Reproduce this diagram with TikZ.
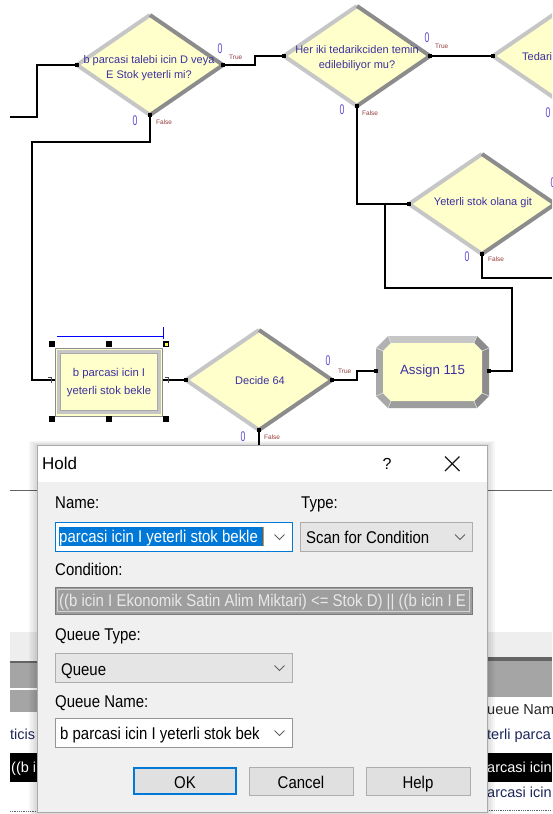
\documentclass[tikz,border=0pt]{standalone}
\usepackage{fontspec}
\setmainfont{Liberation Sans}
\newfontfamily\dlgfont[FakeStretch=0.88]{Liberation Sans}
\newfontfamily\cntfont[FakeStretch=0.62]{Liberation Sans}
\usetikzlibrary{shapes.geometric,calc}

% Arena model colours
\definecolor{blockfill}{RGB}{255,255,204}
\definecolor{bevellight}{RGB}{198,198,198}
\definecolor{beveldark}{RGB}{140,140,140}
\definecolor{bevelmid}{RGB}{168,168,168}
\definecolor{blocktext}{RGB}{60,48,160}
\definecolor{countblue}{RGB}{98,74,210}
\definecolor{branchred}{RGB}{150,62,62}
\definecolor{selblue}{RGB}{0,0,255}
% dialog colours
\definecolor{dlgbody}{RGB}{240,240,240}
\definecolor{dlgborder}{RGB}{170,170,170}
\definecolor{winblue}{RGB}{0,120,215}
\definecolor{ctrlgray}{RGB}{229,229,229}
\definecolor{ctrlborder}{RGB}{173,173,173}
\definecolor{fieldborder}{RGB}{122,122,122}
\definecolor{condfill}{RGB}{158,158,158}
\definecolor{condtext}{RGB}{232,232,232}
\definecolor{chevgray}{RGB}{96,96,96}
\definecolor{caretorange}{RGB}{255,140,0}
% spreadsheet colours
\definecolor{gridgray}{RGB}{165,165,165}
\definecolor{gridlight}{RGB}{238,238,238}
\definecolor{gridline}{RGB}{100,100,100}
\definecolor{gridtext}{RGB}{28,38,90}

\tikzset{
  conn/.style={draw=black, line width=1.1pt, line join=miter},
  decisionbox/.style={diamond, fill=blockfill, inner sep=0pt, outer sep=0pt,
    minimum width=146pt, minimum height=100pt},
  blocklabel/.style={text=blocktext, align=center, inner sep=0pt,
    font=\fontsize{11}{15.5}\selectfont},
  countlabel/.style={text=countblue, inner sep=0pt, font=\cntfont\fontsize{14}{14}\selectfont},
  branchlabel/.style={text=branchred, inner sep=0pt, anchor=west, font=\fontsize{6.5}{7}\selectfont},
  portmark/.style={fill=black},
  handle/.style={fill=black},
  dlgtext/.style={inner sep=0pt, anchor=base west, text=black, font=\dlgfont\fontsize{17}{20}\selectfont},
  chev/.style={draw=chevgray, line width=0.9pt},
  sheettext/.style={inner sep=0pt, anchor=base west, text=gridtext, font=\fontsize{14.5}{18}\selectfont},
}

% a decision module: diamond with a bevelled rim and its caption
\newcommand\arenadecide[4]{%
  \node[decisionbox] (#1) at (#2) {};
  \draw[bevellight, line width=4pt] (#1.south) -- (#1.west) -- (#1.north);
  \draw[beveldark, line width=4pt] (#1.north) -- (#1.east) -- (#1.south);
  \node[blocklabel] at (#3) {#4};
}
% small square marking a connection point
\newcommand\portat[1]{\fill[portmark] ($(#1)+(-1.8,-1.8)$) rectangle ($(#1)+(1.8,1.8)$);}

\begin{document}
\begin{tikzpicture}[x=1pt, y=-1pt]
\useasboundingbox (0,0) rectangle (552,814);
\clip (0,0) rectangle (552,814);
\fill[white] (0,0) rectangle (552,814);

% ---------------- flowchart ----------------
\arenadecide{dA}{150,65}{149,68}{b parcasi talebi icin D veya\\E Stok yeterli mi?}
\arenadecide{dB}{357,56}{357,58}{Her iki tedarikciden temin\\edilebiliyor mu?}
\arenadecide{dC}{566,56}{566,57}{}
\node[text=blocktext, inner sep=0pt, anchor=west, font=\fontsize{11}{12}\selectfont] at (522,57) {Tedari};
\arenadecide{dD}{482,204}{483,203}{Yeterli stok olana git}
\arenadecide{dE}{259,380}{260,381}{Decide 64}

% hold module
\node[fill=blockfill, draw=beveldark, line width=1pt, minimum width=107pt, minimum height=68pt,
      inner sep=0pt] (hold) at (109,382) {};
\draw[bevellight, line width=3pt] (58.5,351.5) rectangle (159.5,412.5);
\draw[bevelmid, line width=0.8pt] (60.5,353.5) rectangle (157.5,410.5);
\node[blocklabel, font=\fontsize{11.3}{18}\selectfont] at (109,383) {b parcasi icin I\\yeterli stok bekle};
% selection handles of the hold module
\foreach \hx in {52,109,166} {
  \foreach \hy in {344,419} {
    \fill[handle] (\hx-2.6,\hy-2.6) rectangle (\hx+2.6,\hy+2.6);
  }
}
\fill[yellow!70] (165,343) rectangle (167.6,345.6);
\draw[selblue, line width=1pt] (57,336) -- (163.5,336);
\draw[selblue, line width=1pt] (163.5,327) -- (163.5,339);

% assign module: octagonal block with bevelled rim
\node[minimum width=113pt, minimum height=72pt, inner sep=0pt, outer sep=0pt] (asg) at (432.5,372) {};
\begin{scope}[shift={(asg.center)}]
  % outer and inner outlines of the rim
  \coordinate (o1) at (-44.5,-36); \coordinate (o2) at (44.5,-36);
  \coordinate (o3) at (56.5,-24);  \coordinate (o4) at (56.5,24);
  \coordinate (o5) at (44.5,36);   \coordinate (o6) at (-44.5,36);
  \coordinate (o7) at (-56.5,24);  \coordinate (o8) at (-56.5,-24);
  \coordinate (i1) at (-41.5,-29); \coordinate (i2) at (41.5,-29);
  \coordinate (i3) at (49.5,-21);  \coordinate (i4) at (49.5,21);
  \coordinate (i5) at (41.5,29);   \coordinate (i6) at (-41.5,29);
  \coordinate (i7) at (-49.5,21);  \coordinate (i8) at (-49.5,-21);
  \fill[bevellight] (o1) -- (o2) -- (i2) -- (i1) -- cycle;
  \fill[bevellight!90!black] (o8) -- (o1) -- (i1) -- (i8) -- cycle;
  \fill[bevelmid] (o7) -- (o8) -- (i8) -- (i7) -- cycle;
  \fill[beveldark] (o2) -- (o3) -- (i3) -- (i2) -- cycle;
  \fill[beveldark] (o3) -- (o4) -- (i4) -- (i3) -- cycle;
  \fill[beveldark] (o4) -- (o5) -- (i5) -- (i4) -- cycle;
  \fill[beveldark!85!white] (o5) -- (o6) -- (i6) -- (i5) -- cycle;
  \fill[bevelmid] (o6) -- (o7) -- (i7) -- (i6) -- cycle;
  \fill[blockfill] (i1) -- (i2) -- (i3) -- (i4) -- (i5) -- (i6) -- (i7) -- (i8) -- cycle;
  \draw[bevellight!60!white, line width=0.6pt] (o8) -- (i8) (o1) -- (i1) (o2) -- (i2) (o3) -- (i3)
    (o4) -- (i4) (o5) -- (i5) (o6) -- (i6) (o7) -- (i7);
\end{scope}
\node[text=blocktext, inner sep=0pt, font=\fontsize{13.3}{15}\selectfont] at (432.5,371) {Assign 115};

% ---------------- connectors ----------------
\coordinate (inA) at (10,117);
\draw[conn] (inA) -- (37,117) -- (37,65) -- (dA.west);
\draw[conn] (dA.east) -- (255,65) -- (255,56) -- (dB.west);
\draw[conn] (dB.east) -- (dC.west);
\draw[conn] (dB.south) -- (357,204) -- (dD.west);
\coordinate (joinD) at (385,204);
\draw[conn] (dA.south) -- (150,142) -- (32,142) -- (32,380) -- (hold.west |- 0,380);
\draw[conn] (hold.east |- 0,380) -- (dE.west);
\draw[conn] (dE.east) -- (357,380) -- (357,371) -- (asg.west |- 0,371);
\draw[conn] (asg.east |- 0,371) -- (512,371) -- (512,288) -- (385,288) -- (joinD);
\coordinate (outD) at (552,278);
\draw[conn] (dD.south) -- (482,278) -- (outD);
\coordinate (outE) at (259,450);
\draw[conn] (dE.south) -- (outE);

% connection points
\portat{dA.west}\portat{dA.east}\portat{dA.south}
\portat{dB.west}\portat{dB.east}\portat{dB.south}
\portat{dC.west}
\portat{dD.west}\portat{dD.south}
\portat{dE.west}\portat{dE.east}\portat{dE.south}
\portat{asg.west |- 0,371}\portat{asg.east |- 0,371}
\draw[black!70, line width=0.8pt] (48,377) -- (51,377) -- (51,383);
\draw[black!70, line width=0.8pt] (165,377) -- (168,377) -- (168,383);

% entity counters and branch names
\node[countlabel] at (220,49) {0};
\node[branchlabel] at (229,57) {True};
\node[countlabel] at (135,121) {0};
\node[branchlabel] at (156,122) {False};
\node[countlabel] at (427,38) {0};
\node[branchlabel] at (435,46) {True};
\node[countlabel] at (342,110) {0};
\node[branchlabel] at (362,113) {False};
\node[countlabel] at (548,113) {0};
\node[countlabel] at (553,183) {0};
\node[countlabel] at (467,257) {0};
\node[branchlabel] at (488,259) {False};
\node[countlabel] at (328,361) {0};
\node[branchlabel] at (338,371) {True};
\node[countlabel] at (243,437) {0};
\node[branchlabel] at (264,437) {False};

% ---------------- spreadsheet pane ----------------
\draw[gridline, line width=1pt] (10,490) -- (37,490);
\draw[gridline, line width=1pt] (487,490) -- (552,490);
% left column
\fill[gridlight] (10,632) rectangle (37,661);
\fill[gridline] (10,661) rectangle (37,662.5);
\fill[gridgray] (10,662.5) rectangle (37,688);
\fill[gridgray] (10,690) rectangle (37,712);
\node[sheettext] at (10,739) {ticis};
\fill[black] (10,753) rectangle (37,782);
\node[sheettext, text=white] at (11,772) {((b i};
\draw[gridline, line width=0.8pt, densely dotted] (10,811) -- (37,811);
% right column
\fill[gridlight] (487,632) rectangle (552,657);
\fill[gridline] (487,657) rectangle (552,661);
\fill[gridgray] (487,661) rectangle (552,697);
\node[sheettext, text=black!85] at (487,714) {ueue Name};
\node[sheettext] at (487,739) {terli parca};
\fill[black] (487,753) rectangle (552,782);
\node[sheettext, text=white] at (487,772) {arcasi icin};
\node[sheettext] at (487,797) {arcasi icin};
\draw[gridline, line width=0.8pt, densely dotted] (487,810) -- (552,810);

% ---------------- Hold dialog ----------------
% soft drop shadow
\foreach \s in {2,4,6,8} {
  \fill[black, opacity=0.035] (37-\s,445-\s/2) rectangle (487+\s,814);
}
\fill[dlgbody] (37,445) rectangle (487,812);
\fill[white] (37,445) rectangle (487,482);
\draw[dlgborder, line width=0.8pt] (37,445) rectangle (487,812);

% title bar
\node[inner sep=0pt, anchor=base west, font=\fontsize{17}{20}\selectfont] at (42,469) {Hold};
\node[inner sep=0pt, anchor=base, font=\fontsize{16}{20}\selectfont] at (387,469) {?};
\draw[black!90, line width=1.1pt] (445,456.5) -- (459.5,471);
\draw[black!90, line width=1.1pt] (459.5,456.5) -- (445,471);

% labels
\node[dlgtext] at (55,508) {Name:};
\node[dlgtext] at (301,508) {Type:};
\node[dlgtext] at (55,575) {Condition:};
\node[dlgtext] at (55,640) {Queue Type:};
\node[dlgtext] at (55,707) {Queue Name:};

% name combo box (text selected)
\draw[fill=white, draw=winblue, line width=1pt] (55,522) rectangle (292,551);
\fill[winblue] (59,527) rectangle (263,546);
\node[dlgtext, text=white] at (59,542) {parcasi icin I yeterli stok bekle};
\draw[caretorange, line width=1pt] (263.5,527) -- (263.5,546);
\draw[chev] (274.5,534.5) -- (279.5,539.5) -- (284.5,534.5);

% type combo box
\draw[fill=ctrlgray, draw=ctrlborder, line width=1pt] (300,522) rectangle (472,551);
\node[dlgtext] at (306,543) {Scan for Condition};
\draw[chev] (455,534.5) -- (460,539.5) -- (465,534.5);

% condition field (read only)
\draw[fill=condfill, draw=fieldborder, line width=1pt] (55,587) rectangle (472,614);
\draw[condtext!80!gray, line width=0.8pt] (57.5,589.5) rectangle (469.5,611.5);
\begin{scope}
  \clip (58,590) rectangle (469,611);
  \node[dlgtext, text=condtext] at (59,606) {((b icin I Ekonomik Satin Alim Miktari) <= Stok D) || ((b icin I E};
\end{scope}

% queue type combo box
\draw[fill=ctrlgray, draw=ctrlborder, line width=1pt] (55,653) rectangle (292,682);
\node[dlgtext] at (61,675) {Queue};
\draw[chev] (274.5,665.5) -- (279.5,670.5) -- (284.5,665.5);

% queue name combo box
\draw[fill=white, draw=fieldborder!80, line width=1pt] (55,718) rectangle (292,747);
\node[dlgtext] at (60,739) {b parcasi icin I yeterli stok bek};
\draw[chev] (274.5,730.5) -- (279.5,735.5) -- (284.5,730.5);

% buttons
\draw[fill=ctrlgray!98!black, draw=winblue, line width=2pt] (134,768) rectangle (236,794);
\node[inner sep=0pt, anchor=base, font=\dlgfont\fontsize{17}{20}\selectfont] at (185,788) {OK};
\draw[fill=ctrlgray!98!black, draw=ctrlborder, line width=1pt] (249,767) rectangle (353,795);
\node[inner sep=0pt, anchor=base, font=\dlgfont\fontsize{17}{20}\selectfont] at (301,788) {Cancel};
\draw[fill=ctrlgray!98!black, draw=ctrlborder, line width=1pt] (366,767) rectangle (470,795);
\node[inner sep=0pt, anchor=base, font=\dlgfont\fontsize{17}{20}\selectfont] at (418,788) {Help};

\end{tikzpicture}
\end{document}
